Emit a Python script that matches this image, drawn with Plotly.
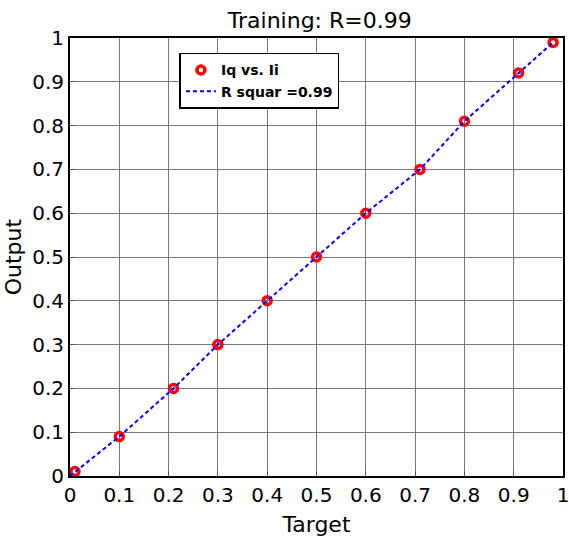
import plotly.graph_objects as go

target = [0.01, 0.10, 0.21, 0.30, 0.40, 0.50, 0.60, 0.71, 0.80, 0.91, 0.98]
output = [0.01, 0.09, 0.20, 0.30, 0.40, 0.50, 0.60, 0.70, 0.81, 0.92, 0.99]
fit_x = [0.0, 0.10, 0.21, 0.30, 0.40, 0.50, 0.60, 0.71, 0.80, 0.91, 0.98]
fit_y = [0.0, 0.09, 0.20, 0.30, 0.40, 0.50, 0.60, 0.70, 0.81, 0.92, 0.99]
ticks = [0, 0.1, 0.2, 0.3, 0.4, 0.5, 0.6, 0.7, 0.8, 0.9, 1]
tick_text = ["0", "0.1", "0.2", "0.3", "0.4", "0.5", "0.6", "0.7", "0.8", "0.9", "1"]

fig = go.Figure()
fig.add_trace(go.Scatter(
    x=target, y=output, mode="markers", name="Iq vs. Ii",
    marker=dict(symbol="circle-open", size=8, color="#ff0000", line=dict(width=3.5, color="#ff0000")),
))
fig.add_trace(go.Scatter(
    x=fit_x, y=fit_y, mode="lines", name="R squar =0.99",
    line=dict(color="#0000ff", width=2, dash="4px,3px"),
))

axis_common = dict(
    range=[0, 1], tickvals=ticks, ticktext=tick_text,
    showgrid=True, gridcolor="#7a7a7a", gridwidth=1,
    showline=True, linecolor="black", linewidth=2, mirror=True,
    ticks="inside", ticklen=5, tickcolor="#555",
    tickfont=dict(family="DejaVu Sans", size=20, color="black"),
    zeroline=False, automargin=False, ticklabeloverflow="allow",
)

fig.update_layout(
    width=569, height=540,
    margin=dict(l=70, r=6, t=38, b=64),
    paper_bgcolor="white", plot_bgcolor="white",
    title=dict(text="Training: R=0.99", x=0.562, xanchor="center", y=0.963, yanchor="middle",
               font=dict(family="DejaVu Sans", size=22, color="black")),
    xaxis=dict(**axis_common, title=dict(text="Target", standoff=11,
               font=dict(family="DejaVu Sans", size=22, color="black"))),
    yaxis=dict(**axis_common),
    legend=dict(x=0.222, y=0.966, xanchor="left", yanchor="top",
                bgcolor="white", bordercolor="black", borderwidth=1.5,
                font=dict(family="DejaVu Sans", size=14, color="black", weight="bold"),
                tracegroupgap=0, itemwidth=30),
    showlegend=True,
    annotations=[dict(text="Output", xref="paper", yref="paper", x=-0.115, y=0.5,
                      xanchor="center", yanchor="middle", textangle=-90, showarrow=False,
                      font=dict(family="DejaVu Sans", size=22, color="black"))],
)

fig.write_html("out.html", config={"displayModeBar": False},
               post_script="document.body.style.margin='0';")
